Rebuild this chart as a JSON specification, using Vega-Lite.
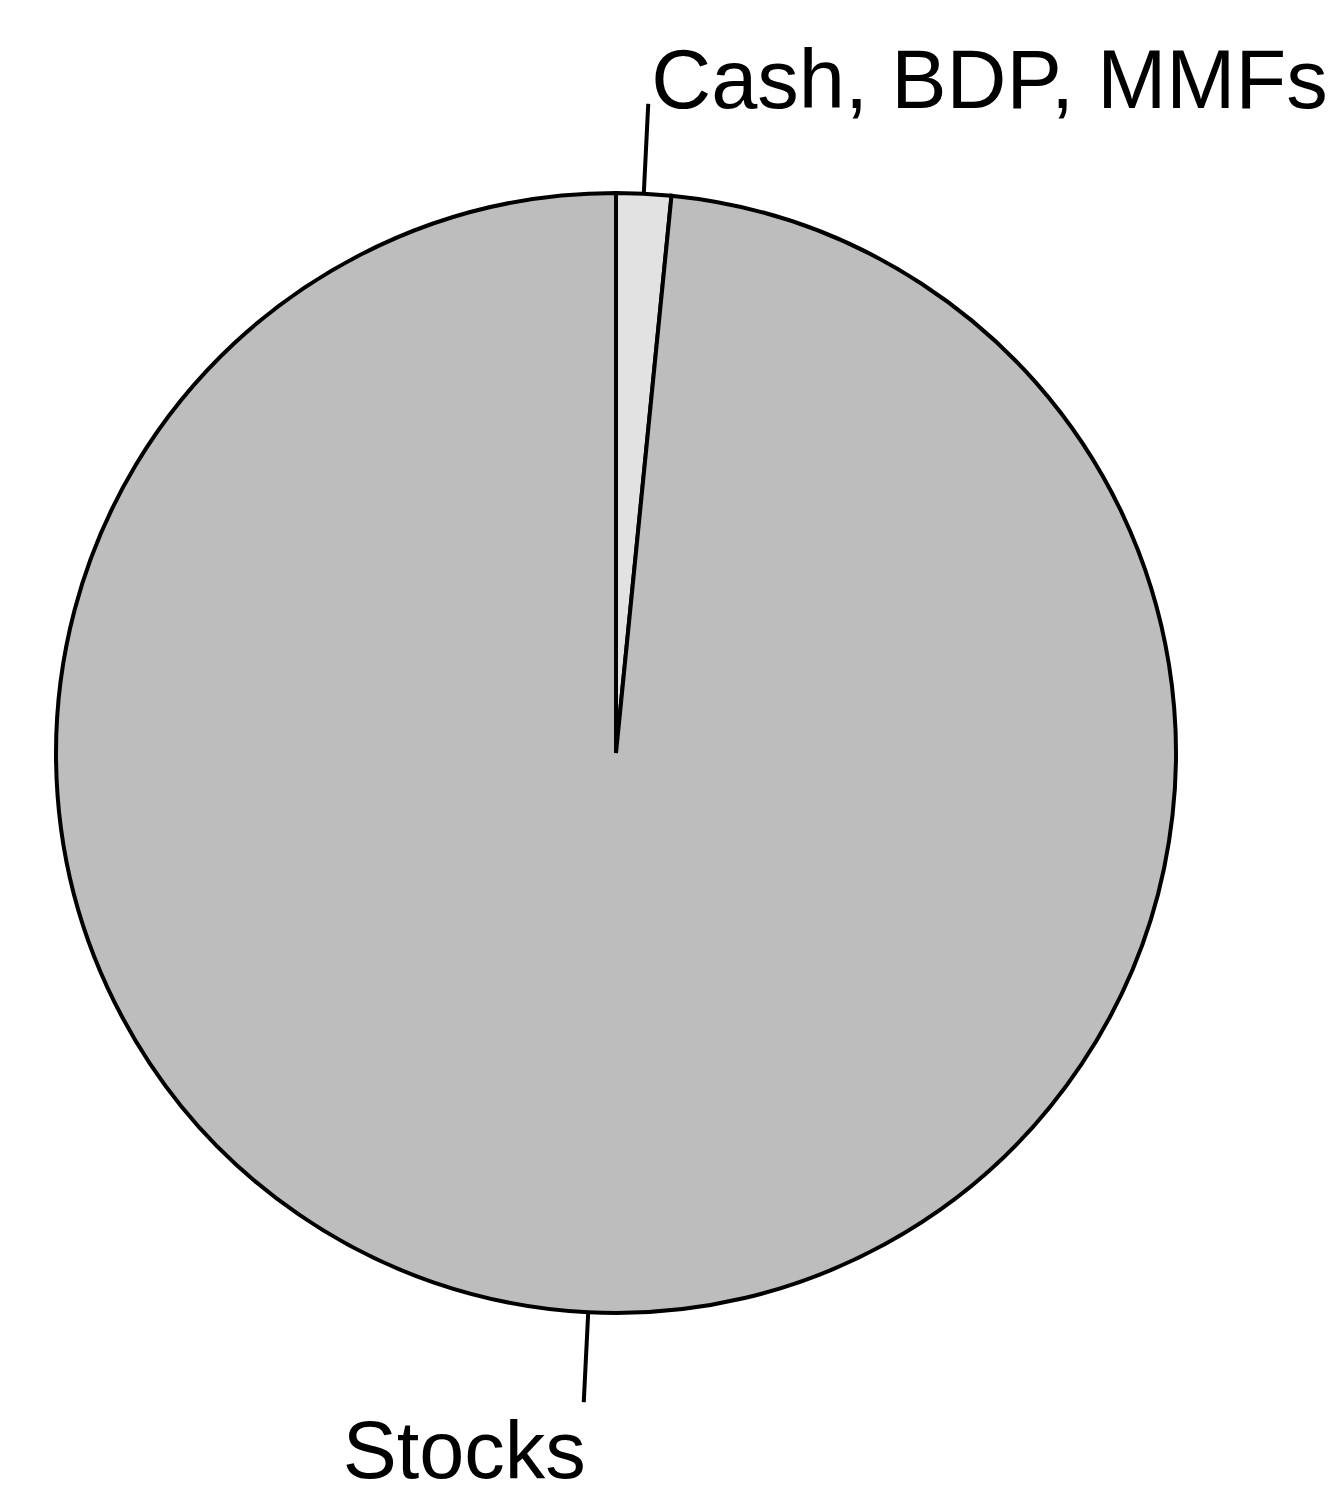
{
  "$schema": "https://vega.github.io/schema/vega-lite/v6.json",
  "width": 1232,
  "height": 1484,
  "autosize": "none",
  "padding": {"left": 0, "right": 108, "top": 11, "bottom": 0},
  "background": "white",
  "config": {"view": {"stroke": null}},
  "data": {
    "values": [
      {"category": "Cash, BDP, MMFs", "value": 1.58},
      {"category": "Stocks", "value": 98.42}
    ]
  },
  "layer": [
    {
      "mark": {"type": "arc", "radius": 560, "stroke": "black", "strokeWidth": 4},
      "encoding": {
        "theta": {"field": "value", "type": "quantitative", "stack": true, "scale": {"domain": [0, 100]}},
        "color": {
          "field": "category",
          "type": "nominal",
          "scale": {"domain": ["Cash, BDP, MMFs", "Stocks"], "range": ["#e2e2e2", "#bdbdbd"]},
          "legend": null
        },
        "order": {"field": "category", "sort": "ascending"}
      }
    },
    {
      "transform": [
        {"stack": "value", "groupby": [], "sort": [{"field": "category", "order": "ascending"}], "as": ["v0", "v1"]},
        {"fold": ["v0", "v1"], "as": ["edge", "angle"]},
        {"aggregate": [{"op": "mean", "field": "angle", "as": "mid"}], "groupby": ["category"]}
      ],
      "layer": [
        {
          "mark": {"type": "arc", "radius": 650, "radius2": 560, "stroke": "black", "strokeWidth": 4, "filled": false},
          "encoding": {
            "theta": {"field": "mid", "type": "quantitative"},
            "theta2": {"field": "mid"}
          }
        },
        {
          "transform": [{"filter": "datum.category == 'Stocks'"}],
          "mark": {"type": "text", "radius": 650, "align": "right", "baseline": "top", "fontSize": 81, "font": "Liberation Sans", "dx": 2, "dy": 12, "color": "black"},
          "encoding": {
            "theta": {"field": "mid", "type": "quantitative"},
            "text": {"field": "category"}
          }
        },
        {
          "transform": [{"filter": "datum.category != 'Stocks'"}],
          "mark": {"type": "text", "radius": 650, "align": "left", "baseline": "alphabetic", "fontSize": 83, "font": "Liberation Sans", "dx": 3, "dy": 4, "color": "black"},
          "encoding": {
            "theta": {"field": "mid", "type": "quantitative"},
            "text": {"field": "category"}
          }
        }
      ]
    }
  ]
}
